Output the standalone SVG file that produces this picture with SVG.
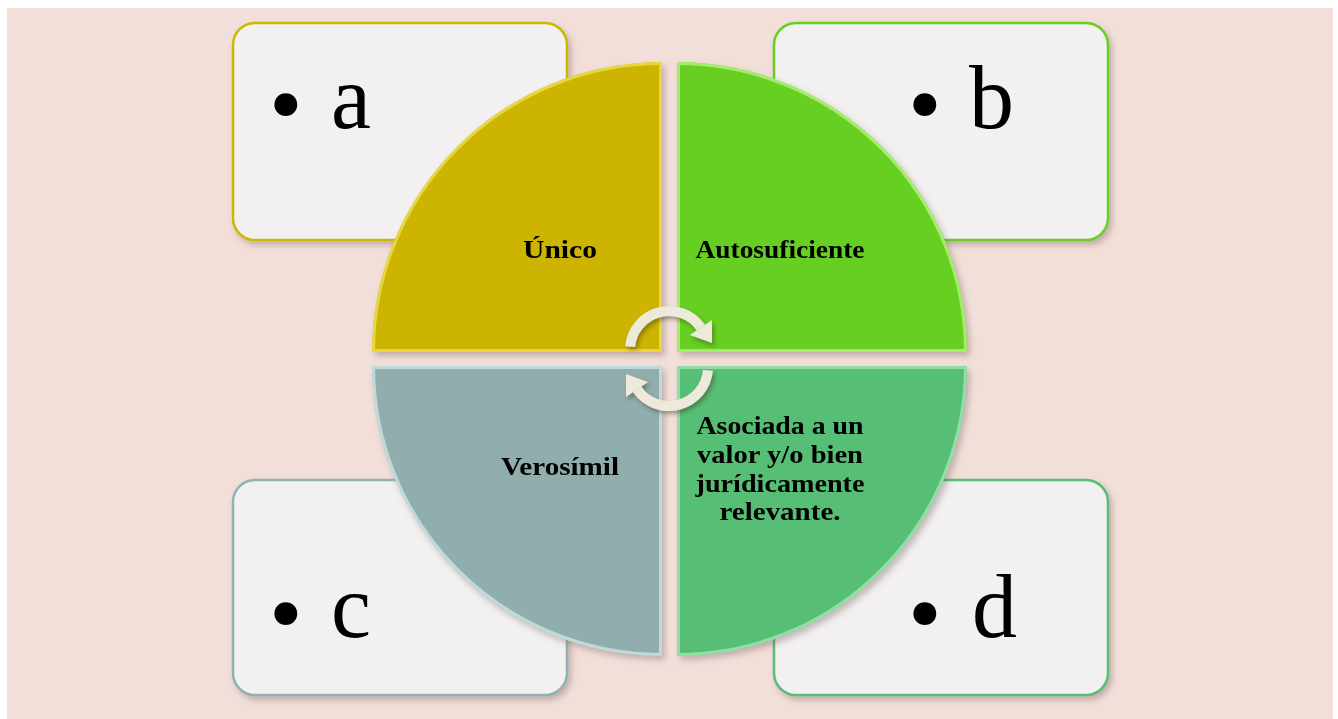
<svg xmlns="http://www.w3.org/2000/svg" width="1338" height="719" viewBox="0 0 1338 719">
  <style>
    .box { fill: #F2F0F0; stroke-width: 2.5; }
    .bullet { font-family: "Liberation Serif", serif; font-size: 90px; fill: #000; }
    .dot { font-size: 96px; }
    .lbl { font-family: "Liberation Serif", serif; font-weight: bold; font-size: 25px; fill: #000; text-anchor: middle; }
    .arc { fill: none; stroke: #EEEADB; stroke-width: 10; }
    .head { fill: #EEEADB; }
  </style>
  <defs>
    <filter id="shadow" x="-10%" y="-10%" width="125%" height="125%">
      <feDropShadow dx="3" dy="4" stdDeviation="3" flood-color="#6b5050" flood-opacity="0.35"/>
    </filter>
    <filter id="arrowShadow" x="-30%" y="-30%" width="160%" height="160%">
      <feDropShadow dx="2" dy="3" stdDeviation="2" flood-color="#3a3020" flood-opacity="0.45"/>
    </filter>
    <clipPath id="cTL"><path d="M662,352 L372,352 A290,290 0 0 1 662,62 Z"/></clipPath>
    <clipPath id="cTR"><path d="M677,352 L677,62 A290,290 0 0 1 967,352 Z"/></clipPath>
    <clipPath id="cBL"><path d="M662,366 L662,656 A290,290 0 0 1 372,366 Z"/></clipPath>
    <clipPath id="cBR"><path d="M677,366 L967,366 A290,290 0 0 1 677,656 Z"/></clipPath>
  </defs>

  <!-- page background -->
  <rect x="0" y="0" width="1338" height="719" fill="#FFFFFF"/>
  <rect x="7" y="8" width="1326" height="711" fill="#F2DFDA"/>

  <!-- corner boxes -->
  <g id="box-a" filter="url(#shadow)">
    <rect class="box" x="233" y="23" width="334" height="217" rx="22" stroke="#CDB800"/>
    <text class="bullet" y="128"><tspan class="dot" x="269" dy="8">•</tspan><tspan x="331" dy="-8">a</tspan></text>
  </g>
  <g id="box-b" filter="url(#shadow)">
    <rect class="box" x="774" y="23" width="334" height="217" rx="22" stroke="#66CF20"/>
    <text class="bullet" y="128"><tspan class="dot" x="908" dy="8">•</tspan><tspan x="969" dy="-8">b</tspan></text>
  </g>
  <g id="box-c" filter="url(#shadow)">
    <rect class="box" x="233" y="480" width="334" height="215" rx="22" stroke="#8EB3B4"/>
    <text class="bullet" y="637"><tspan class="dot" x="269" dy="8">•</tspan><tspan x="331" dy="-8">c</tspan></text>
  </g>
  <g id="box-d" filter="url(#shadow)">
    <rect class="box" x="774" y="480" width="334" height="215" rx="22" stroke="#57BE75"/>
    <text class="bullet" y="637"><tspan class="dot" x="908" dy="8">•</tspan><tspan x="972" dy="-8">d</tspan></text>
  </g>

  <!-- quadrants of the central circle -->
  <g id="q-unico" filter="url(#shadow)">
    <path d="M662,352 L372,352 A290,290 0 0 1 662,62 Z" fill="#CCB400"/>
    <path d="M662,352 L372,352 A290,290 0 0 1 662,62 Z" fill="none" stroke="#F7EE6A" stroke-width="6" clip-path="url(#cTL)" opacity="0.6"/>
    <text class="lbl" x="560" y="258" textLength="74" lengthAdjust="spacingAndGlyphs">Único</text>
  </g>
  <g id="q-autosuficiente" filter="url(#shadow)">
    <path d="M677,352 L677,62 A290,290 0 0 1 967,352 Z" fill="#66CF20"/>
    <path d="M677,352 L677,62 A290,290 0 0 1 967,352 Z" fill="none" stroke="#CFFFA0" stroke-width="6" clip-path="url(#cTR)" opacity="0.6"/>
    <text class="lbl" x="780" y="258" textLength="169" lengthAdjust="spacingAndGlyphs">Autosuficiente</text>
  </g>
  <g id="q-verosimil" filter="url(#shadow)">
    <path d="M662,366 L662,656 A290,290 0 0 1 372,366 Z" fill="#8FAEAD"/>
    <path d="M662,366 L662,656 A290,290 0 0 1 372,366 Z" fill="none" stroke="#EAFFFF" stroke-width="6" clip-path="url(#cBL)" opacity="0.55"/>
    <text class="lbl" x="560" y="475" textLength="118" lengthAdjust="spacingAndGlyphs">Verosímil</text>
  </g>
  <g id="q-asociada" filter="url(#shadow)">
    <path d="M677,366 L967,366 A290,290 0 0 1 677,656 Z" fill="#57BE75"/>
    <path d="M677,366 L967,366 A290,290 0 0 1 677,656 Z" fill="none" stroke="#C2F7D0" stroke-width="6" clip-path="url(#cBR)" opacity="0.55"/>
    <text class="lbl" x="780" y="434" textLength="167" lengthAdjust="spacingAndGlyphs">Asociada a un</text>
    <text class="lbl" x="780" y="463" textLength="166" lengthAdjust="spacingAndGlyphs">valor y/o bien</text>
    <text class="lbl" x="780" y="492" textLength="169" lengthAdjust="spacingAndGlyphs">jurídicamente</text>
    <text class="lbl" x="780" y="520" textLength="121" lengthAdjust="spacingAndGlyphs">relevante.</text>
  </g>

  <!-- cycle arrows -->
  <g id="connectors" filter="url(#arrowShadow)">
    <path class="arc" d="M630.1,346.6 A39,39 0 0 1 700.9,327.6"/>
    <polygon class="head" points="712,343 712,320 690,335"/>
    <g transform="rotate(180 669 358.5)">
      <path class="arc" d="M630.1,346.6 A39,39 0 0 1 700.9,327.6"/>
      <polygon class="head" points="712,343 712,320 690,335"/>
    </g>
  </g>
</svg>
